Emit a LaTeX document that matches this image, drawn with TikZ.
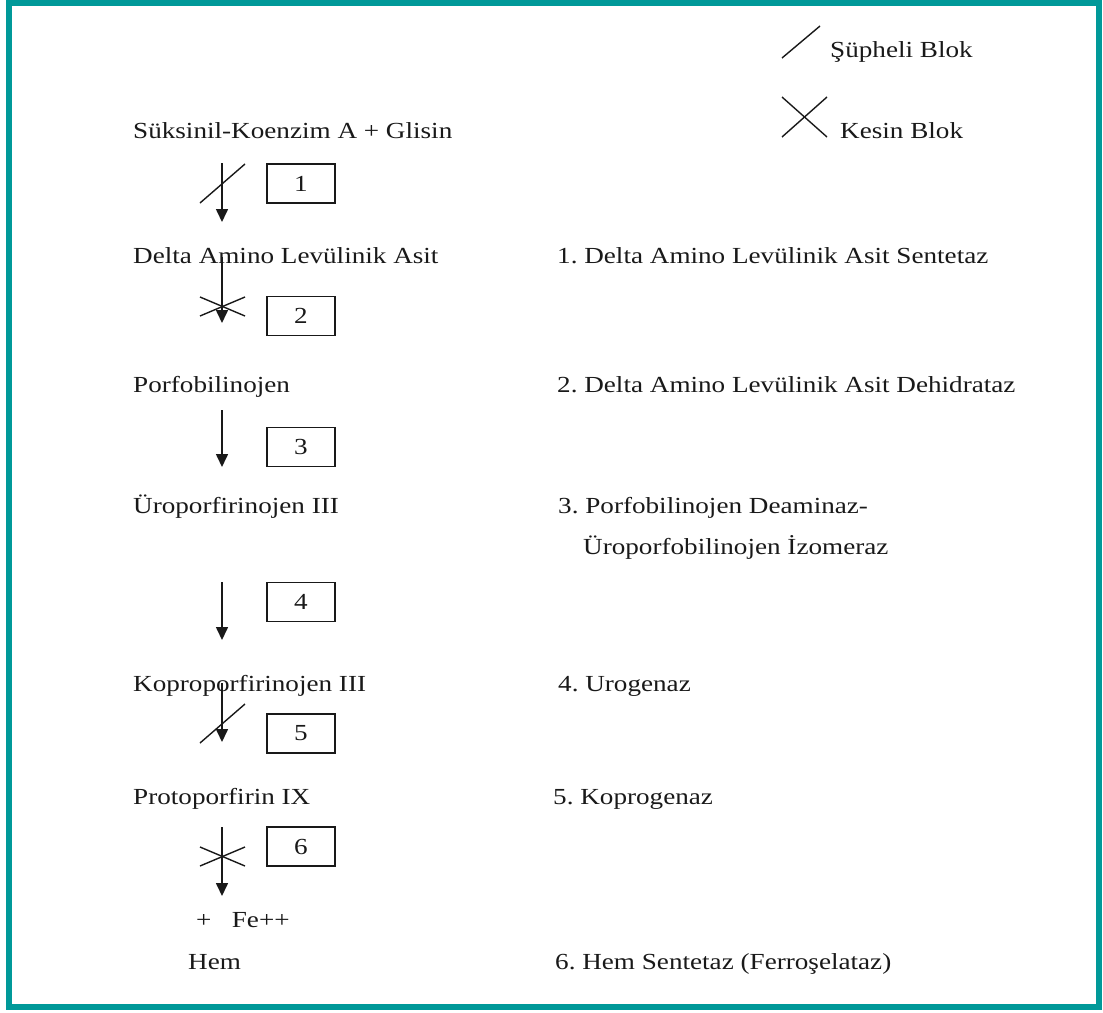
\documentclass[tikz,border=0pt]{standalone}
\usepackage{fontspec}
\setmainfont{Liberation Serif}
\usepackage{graphicx}
\usetikzlibrary{arrows.meta}
\definecolor{frameteal}{RGB}{0,153,153}
\definecolor{ink}{RGB}{25,25,25}
\newcommand\sx[1]{\scalebox{1.18}[1]{#1}}
\frenchspacing
\begin{document}
\begin{tikzpicture}[x=1pt,y=-1pt,
  lbl/.style={anchor=base west, inner sep=0pt, font=\fontsize{23}{28}\selectfont, text=ink},
  numbox/.style={draw=ink, line width=1.6pt, minimum width=68pt, minimum height=39pt, inner sep=0pt, font=\fontsize{23}{28}\selectfont, text=ink},
  arr/.style={draw=ink, line width=1.6pt, -{Triangle[width=12pt,length=13pt]}},
  blk/.style={draw=ink, line width=1.4pt}]
\useasboundingbox (0,0) rectangle (1103,1012);
\draw[frameteal, line width=6pt] (9,3) rectangle (1099,1007);

% legend
\draw[blk] (782,58) -- (820,26);
\node[lbl] (leg1) at (830,57) {\sx{Şüpheli Blok}};
\draw[blk] (782,97) -- (827,137);
\draw[blk] (782,137) -- (827,97);
\node[lbl] (leg2) at (840,138) {\sx{Kesin Blok}};

% left column
\node[lbl] (s0) at (133,138) {\sx{Süksinil-Koenzim A + Glisin}};
\node[lbl] (s1) at (133,263) {\sx{Delta Amino Levülinik Asit}};
\node[lbl] (s2) at (133,392) {\sx{Porfobilinojen}};
\node[lbl] (s3) at (133,513) {\sx{Üroporfirinojen III}};
\node[lbl] (s4) at (133,691) {\sx{Koproporfirinojen III}};
\node[lbl] (s5) at (133,804) {\sx{Protoporfirin IX}};
\node[lbl] (fe) at (196,927) {\sx{+\hspace{0.75em}Fe++}};
\node[lbl] (s6) at (188,969) {\sx{Hem}};

% right column
\node[lbl] (e1) at (557,263) {\sx{1. Delta Amino Levülinik Asit Sentetaz}};
\node[lbl] (e2) at (557,392) {\sx{2. Delta Amino Levülinik Asit Dehidrataz}};
\node[lbl] (e3) at (558,513) {\sx{3. Porfobilinojen Deaminaz-}};
\node[lbl] (e3b) at (583,554) {\sx{Üroporfobilinojen İzomeraz}};
\node[lbl] (e4) at (558,691) {\sx{4. Urogenaz}};
\node[lbl] (e5) at (553,804) {\sx{5. Koprogenaz}};
\node[lbl] (e6) at (555,969) {\sx{6. Hem Sentetaz (Ferroşelataz)}};

% number boxes
\node[numbox] (b1) at (301,183.5) {\sx{1}};
\node[numbox] (b2) at (301,316) {\sx{2}};
\node[numbox] (b3) at (301,447) {\sx{3}};
\node[numbox] (b4) at (301,602) {\sx{4}};
\node[numbox] (b5) at (301,733.5) {\sx{5}};
\node[numbox] (b6) at (301,846.5) {\sx{6}};

% arrows
\coordinate (a1s) at (222,163); \coordinate (a1e) at (222,222);
\coordinate (a2s) at (222,257); \coordinate (a2e) at (222,323);
\coordinate (a3s) at (222,410); \coordinate (a3e) at (222,467);
\coordinate (a4s) at (222,582); \coordinate (a4e) at (222,640);
\coordinate (a5s) at (222,683); \coordinate (a5e) at (222,742);
\coordinate (a6s) at (222,827); \coordinate (a6e) at (222,896);
\draw[arr] (a1s) -- (a1e);
\draw[arr] (a2s) -- (a2e);
\draw[arr] (a3s) -- (a3e);
\draw[arr] (a4s) -- (a4e);
\draw[arr] (a5s) -- (a5e);
\draw[arr] (a6s) -- (a6e);

% block marks
\draw[blk] (200,203) -- (245,164);
\draw[blk] (200,297) -- (245,316);
\draw[blk] (200,316) -- (245,297);
\draw[blk] (200,743) -- (245,704);
\draw[blk] (200,847) -- (245,866);
\draw[blk] (200,866) -- (245,847);
\end{tikzpicture}
\end{document}
